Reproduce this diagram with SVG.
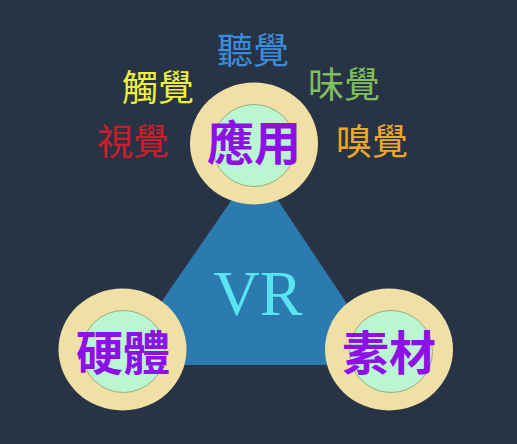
<svg xmlns="http://www.w3.org/2000/svg" width="517" height="444" viewBox="0 0 517 444">
<defs>
<style>
.outer{fill:#f1e0a6;}
.inner{fill:#baf6d2;stroke:#8a9a6a;stroke-width:0.8;}
.main{font-family:"Noto Sans CJK TC","Noto Sans CJK SC",sans-serif;font-size:47px;font-weight:700;fill:#8f10e6;text-anchor:middle;}
.sense{font-family:"Noto Sans CJK TC","Noto Sans CJK SC",sans-serif;font-size:36px;font-weight:400;text-anchor:middle;}
</style>
</defs>
<rect width="517" height="444" fill="#283446"/>
<g id="triangle">
<polygon points="255,166 118,365 388,365" fill="#2b7bb0"/>
<text x="258" y="315" font-family="Liberation Serif, serif" font-size="64" fill="#58e4f0" text-anchor="middle">VR</text>
</g>
<g id="connectors"></g>
<g id="node-app">
<ellipse class="outer" cx="254" cy="143.5" rx="64" ry="61"/>
<ellipse class="inner" cx="254" cy="145.5" rx="41.5" ry="41"/>
<text class="main" x="254" y="160">應用</text>
</g>
<g id="node-hardware">
<ellipse class="outer" cx="122.5" cy="349.5" rx="64" ry="61"/>
<ellipse class="inner" cx="123.5" cy="351.5" rx="41.5" ry="41"/>
<text class="main" x="123" y="370">硬體</text>
</g>
<g id="node-material">
<ellipse class="outer" cx="389" cy="349.5" rx="64" ry="61"/>
<ellipse class="inner" cx="391" cy="351.5" rx="41.5" ry="41"/>
<text class="main" x="389" y="370">素材</text>
</g>
<g id="senses">
<text class="sense" x="253" y="64" fill="#3a8ddc">聽覺</text>
<text class="sense" x="158" y="101" fill="#eef03c">觸覺</text>
<text class="sense" x="344" y="98" fill="#7fbf5c">味覺</text>
<text class="sense" x="133" y="155" fill="#d01c2a">視覺</text>
<text class="sense" x="372" y="155" fill="#eeaa22">嗅覺</text>
</g>
</svg>
